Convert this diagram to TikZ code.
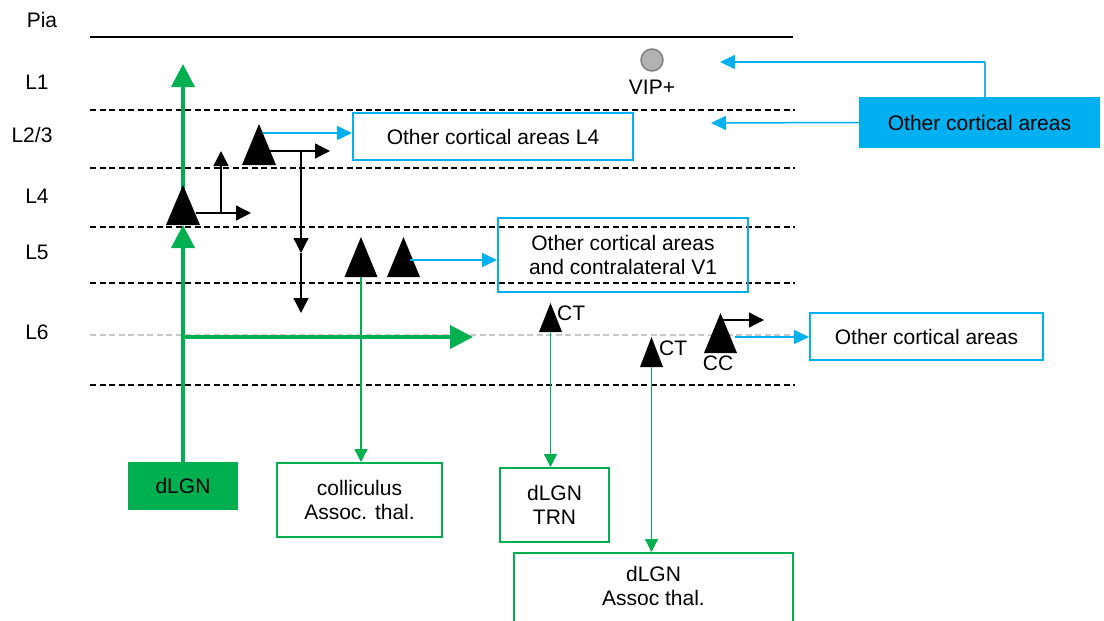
\documentclass[tikz,border=0pt]{standalone}
\usepackage{fontspec}
\setmainfont{Liberation Sans}
\usetikzlibrary{arrows.meta,calc}
\definecolor{cblue}{HTML}{00B0F0}
\definecolor{cgreen}{HTML}{00B050}
\definecolor{lgray}{HTML}{C8C8C8}
\definecolor{vblue}{HTML}{7FA6E6}
\newcommand{\pyramid}[5]{%
  \coordinate (#1) at (#2,#3);
  \fill[black] (#1) ++(-#4,0) -- ++({2*#4},0) -- ++(-#4,-#5) -- cycle;}
\begin{document}
\begin{tikzpicture}[x=1pt,y=-1pt,
  font=\fontsize{21}{24}\selectfont,
  layerline/.style={line width=1.2pt, dash pattern=on 6pt off 3.5pt},
  gthick/.style={cgreen, line width=4pt, -{Triangle[length=23pt,width=23pt]}},
  gthin/.style={cgreen, line width=1.3pt, -{Triangle[length=13pt,width=13pt]}},
  barrow/.style={black, line width=1.3pt, -{Triangle[length=15pt,width=15pt]}},
  bline/.style={black, line width=1.3pt},
  blarrow/.style={cblue, line width=1.5pt, -{Triangle[length=15pt,width=14pt]}},
  bbox/.style={draw=cblue, line width=2pt, align=center, inner sep=0pt},
  gbox/.style={draw=cgreen, line width=2pt, align=center, inner sep=0pt},
  lbl/.style={inner sep=0pt}]
\useasboundingbox (0,0) rectangle (1104,621);
\clip (0,0) rectangle (1104,621);

% layer labels
\node[lbl] (pia) at (42,20) {Pia};
\node[lbl] (l1) at (37,82) {L1};
\node[lbl] (l23) at (32,135) {L2/3};
\node[lbl] (l4) at (37,196) {L4};
\node[lbl] (l5) at (37,252) {L5};
\node[lbl] (l6) at (37,332) {L6};

% layer lines
\draw[line width=2pt] (90,37) -- (793,37);
\foreach \yy in {110,168,227,283,385}
  \draw[layerline] (90,\yy) -- (795,\yy);
\draw[layerline, lgray] (90,335) -- (795,335);

% boxes
\node[bbox, minimum width=280pt, minimum height=47pt] (ocL4) at (493,136.5) {Other cortical areas L4};
\node[bbox, minimum width=250pt, minimum height=74pt] (ocV1) at (623,255) {Other cortical areas\\and contralateral V1};
\node[bbox, minimum width=233pt, minimum height=47pt] (ocR) at (926.5,336.5) {Other cortical areas};
\node[fill=cblue, minimum width=241pt, minimum height=51pt, inner sep=0pt] (ocTop) at (979.5,122.5) {Other cortical areas};
\node[fill=cgreen, minimum width=110pt, minimum height=48pt, inner sep=0pt] (dLGN) at (183,486) {dLGN};
\node[gbox, minimum width=165pt, minimum height=74pt] (coll) at (359.5,500) {colliculus\\Assoc. thal.};
\node[gbox, minimum width=109pt, minimum height=74pt] (trn) at (554.5,505) {dLGN\\TRN};
\node[gbox, minimum width=279pt, minimum height=110pt, anchor=north] (assoc) at (653.5,552) {};
\node[lbl, align=center] (assoctxt) at (653.5,586) {dLGN\\Assoc thal.};

% VIP
\node[circle, fill=gray!60, draw=gray, line width=1.5pt, minimum size=22pt, inner sep=0pt] (vip) at (652,60) {};
\node[lbl] (viplbl) at (652,87) {VIP+};

% green thick arrows (under triangles)
\coordinate (gtop) at (183,64);
\coordinate (gHs) at (181,337);
\coordinate (gHe) at (473,337);
\draw[gthick] (183,205) -- (gtop);
\draw[gthick] (gHs) -- (gHe);

% pyramids
\pyramid{tL4}{183}{225}{17}{40}
\pyramid{tL23}{259}{165}{17}{41}
\pyramid{tL5a}{361}{277}{16.5}{40}
\pyramid{tL5b}{403.5}{277}{16.5}{40}
\pyramid{tCT1}{550.5}{332}{11.5}{29}
\pyramid{tCT2}{651.5}{367}{11.5}{30}
\pyramid{tCC}{720.5}{353}{16.5}{40}

\draw[gthick] (dLGN.north) -- (tL4);

% L4 black arrows
\coordinate (b4s) at (196,213);
\coordinate (b4e) at (251,213);
\coordinate (b4v) at (221,213);
\coordinate (b4t) at (221,151);
\draw[barrow] (b4s) -- (b4e);
\draw[barrow] (b4v) -- (b4t);

% L2/3 arrows
\coordinate (b23s) at (263,133);
\draw[blarrow] (b23s) -- (b23s -| ocL4.west);
\coordinate (k23s) at (270,151);
\coordinate (k23e) at (330,151);
\coordinate (k23v) at (301,151);
\coordinate (k23m) at (301,253);
\coordinate (k23b) at (301,313);
\draw[barrow] (k23s) -- (k23e);
\draw[barrow] (k23v) -- (k23m);
\draw[barrow] (k23m) -- (k23b);

% L5
\draw[gthin] (tL5a) -- (tL5a |- coll.north);
\coordinate (b5s) at (410,260);
\draw[blarrow] (b5s) -- (b5s -| ocV1.west);

% L6
\node[lbl, anchor=west] (ct1) at (557,313) {CT};
\node[lbl, anchor=west] (ct2) at (659,348) {CT};
\node[lbl] (cc) at (718,363) {CC};
\draw[gthin] (tCT1) -- (tCT1 |- trn.north);
\draw[gthin] (tCT2) -- (tCT2 |- assoc.north);
\coordinate (ccs) at (722,320);
\coordinate (cce) at (764,320);
\draw[barrow] (ccs) -- (cce);
\coordinate (ccb) at (735,337);
\draw[blarrow] (ccb) -- (ccb -| ocR.west);

% top-right connections
\coordinate (tb) at (985,97);
\coordinate (vipT) at (720,62);
\draw[cblue!60!vblue, line width=1.5pt] (tb) -- (tb |- vipT);
\draw[blarrow] (tb |- vipT) -- (vipT);
\coordinate (l23T) at (711,123);
\draw[blarrow] (ocTop.west) -- (l23T);
\end{tikzpicture}
\end{document}
